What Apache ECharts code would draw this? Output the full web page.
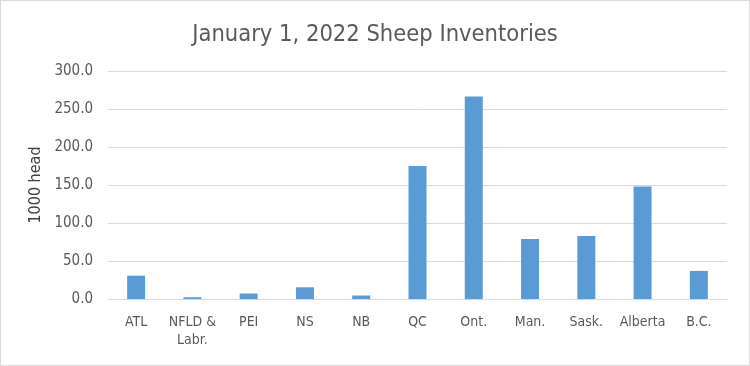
<!DOCTYPE html>
<html><head><meta charset="utf-8">
<script src="https://cdn.jsdelivr.net/npm/echarts@6/dist/echarts.min.js"></script>
<style>
html,body{margin:0;padding:0;background:#fff;}
#c{width:750px;height:366px;box-sizing:border-box;border:1px solid #d9d9d9;}
</style></head>
<body><div id="c"></div>
<script>
const categories = ["ATL","NFLD & Labr.","PEI","NS","NB","QC","Ont.","Man.","Sask.","Alberta","B.C."];
const values = [30.7, 2.3, 7.2, 15.4, 4.6, 175.0, 266.4, 79.0, 83.0, 148.0, 37.0];
const yTicks = {min: 0, max: 300, interval: 50};
const FONT = '"Liberation Sans Narrow","DejaVu Sans Condensed","Roboto",sans-serif';
const chart = echarts.init(document.getElementById('c'), null, {renderer:'canvas'});
chart.setOption({
  animation:false,
  backgroundColor:'#fff',
  title:{text:'January 1, 2022 Sheep Inventories', left:'center', top:17,
    textStyle:{fontFamily:FONT, fontSize:23.5, fontWeight:'normal', color:'#595959'}},
  grid:{left:107, right:22, top:70, bottom:66},
  xAxis:{type:'category', data:categories,
    axisLine:{lineStyle:{color:'#d9d9d9'}}, axisTick:{show:false},
    axisLabel:{fontFamily:FONT, fontSize:14, color:'#595959', margin:14, lineHeight:18, interval:0,
      formatter:v=>v.replace('& ','&\n')}},
  yAxis:{type:'value', min:yTicks.min, max:yTicks.max, interval:yTicks.interval,
    name:'1000 head', nameLocation:'middle', nameGap:63, nameRotate:90,
    nameTextStyle:{fontFamily:FONT, fontSize:16, color:'#404040'},
    axisLine:{show:false}, axisTick:{show:false},
    splitLine:{lineStyle:{color:'#d9d9d9', width:1}},
    axisLabel:{fontFamily:FONT, fontSize:15, color:'#595959', margin:15, formatter:v=>v.toFixed(1)}},
  series:[{type:'bar', data:values, barWidth:18, itemStyle:{color:'#5b9bd5'}}]
});
</script></body></html>
